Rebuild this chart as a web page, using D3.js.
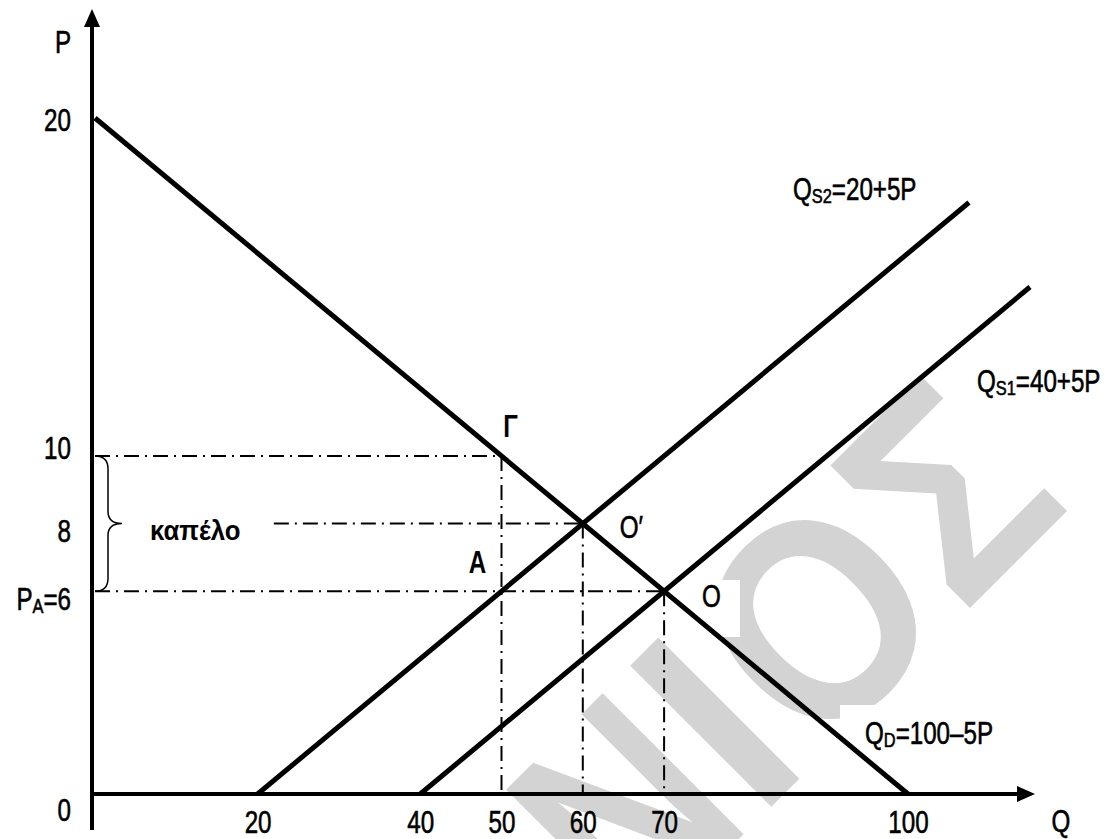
<!DOCTYPE html>
<html>
<head>
<meta charset="utf-8">
<script src="https://cdn.jsdelivr.net/npm/d3@7"></script>
<style>
  html, body { margin: 0; padding: 0; background: #fff; }
  svg { display: block; }
  text { font-family: "Liberation Sans", Arial, sans-serif; fill: #000; }
  text.lab { stroke: #000; stroke-width: 0.6px; }
</style>
</head>
<body>
<svg id="chart" width="1119" height="839"></svg>
<script>
// Market for a good: demand, original supply, shifted supply (after the subsidy)
const qTicks = [20, 40, 50, 60, 70, 100];
const pTicks = [20, 10, 8, 6];
const pTickText = ["20", "10", "8", "P|A|=6"];

// curves as [Q, P] end points
const demandLine  = [[0, 20], [100, 0]];      // QD = 100 - 5P
const supply1Line = [[40, 0], [115, 15]];     // QS1 = 40 + 5P
const supply2Line = [[20, 0], [107.5, 17.5]]; // QS2 = 20 + 5P

// dash-dot guide segments [[Q1, P1], [Q2, P2]]
const guides = [
  [[0, 10], [50, 10]],
  [[50, 10], [50, 0]],
  [[22, 8], [60, 8]],
  [[60, 8], [60, 0]],
  [[0, 6], [70, 6]],
  [[70, 6], [70, 0]]
];

// labelled points
const points = [
  { name: "Γ",  q: 50, p: 10, bold: true },
  { name: "A",  q: 50, p: 6,  bold: true },
  { name: "O′", q: 60, p: 8,  bold: false },
  { name: "O",  q: 70, p: 6,  bold: false }
];

const svg = d3.select("#chart");
const x = d3.scaleLinear().domain([0, 100]).range([95, 908]);
const y = d3.scaleLinear().domain([0, 20]).range([794, 118]);
const axisX = 92;
const NARROW = 0.78;   // horizontal squeeze for the condensed lettering
const FS = 31;

// condensed text placed at (px, py)
function label(parent, px, py, opts = {}) {
  const t = parent.append("text")
    .attr("class", opts.bold ? null : "lab")
    .attr("transform", `translate(${px},${py}) scale(${opts.sx || NARROW},1)`)
    .attr("text-anchor", opts.anchor || "start")
    .style("font-size", (opts.size || FS) + "px")
    .style("font-weight", opts.bold ? "bold" : "normal");
  richText(t, opts.text, opts.sub || 21);
  return t;
}

// text with "|sub|" subscripts
function richText(sel, str, subSize) {
  const parts = str.split("|");
  parts.forEach((t, i) => {
    if (!t) return;
    const ts = sel.append("tspan").text(t);
    if (i % 2 === 1) ts.style("font-size", subSize + "px").attr("dy", 3);
    else if (i > 0) ts.attr("dy", -3);
  });
}

// faint background mark, set letter by letter along a 45° baseline
const wm = svg.append("g")
  .attr("transform", "translate(803,775) rotate(-45)");
[["Ν", -152, 0.8], ["Ι", -25, 0.95], ["Ο", 120, 0.88], ["Σ", 303, 0.9]].forEach(([ch, u, sx]) => {
  wm.append("text")
    .attr("transform", `translate(${u},0) scale(${sx},1)`)
    .attr("text-anchor", "middle")
    .style("font-weight", "bold")
    .style("font-size", "290px")
    .style("fill", "#d3d3d3")
    .text(ch);
});

// white backing of the text boxes
svg.append("rect").attr("x", 690).attr("y", 580).attr("width", 50).attr("height", 57).attr("fill", "#fff");
svg.append("rect").attr("x", 840).attr("y", 705).attr("width", 180).attr("height", 55).attr("fill", "#fff");

// guides
const line = d3.line().x(d => x(d[0])).y(d => y(d[1]));
svg.append("g").selectAll("path").data(guides).join("path")
  .attr("d", line)
  .attr("fill", "none")
  .attr("stroke", "#000")
  .attr("stroke-width", 2)
  .attr("stroke-dasharray", "15,6,2,6");

// axes lines with arrows
svg.append("line").attr("x1", axisX).attr("y1", 20).attr("x2", axisX).attr("y2", 830)
  .attr("stroke", "#000").attr("stroke-width", 4);
svg.append("line").attr("x1", axisX - 2).attr("y1", y(0)).attr("x2", 1022).attr("y2", y(0))
  .attr("stroke", "#000").attr("stroke-width", 4);
svg.append("path").attr("d", `M${axisX},9 L${axisX - 8},27 L${axisX + 8},27 Z`).attr("fill", "#000");
svg.append("path").attr("d", `M1035,${y(0)} L1017,${y(0) - 8} L1017,${y(0) + 8} Z`).attr("fill", "#000");

// curves
[demandLine, supply1Line, supply2Line].forEach(d => {
  svg.append("path").attr("d", line(d))
    .attr("fill", "none").attr("stroke", "#000").attr("stroke-width", 5);
});

// brace over the 6..10 price band
const bTop = y(10), bMid = y(8), bBot = y(6), b0 = axisX + 3, b1 = 108, b2 = 122;
svg.append("path")
  .attr("d", `M${b0},${bTop} Q${b1},${bTop} ${b1},${bTop + 13} L${b1},${bMid - 12} Q${b1},${bMid} ${b2},${bMid} Q${b1},${bMid} ${b1},${bMid + 12} L${b1},${bBot - 13} Q${b1},${bBot} ${b0},${bBot}`)
  .attr("fill", "none").attr("stroke", "#000").attr("stroke-width", 1.5);

// quantity tick labels
const xAxis = d3.axisBottom(x).tickValues(qTicks).tickSize(0).tickPadding(17);
const gx = svg.append("g").attr("transform", `translate(0,${y(0)})`).call(xAxis);
gx.select(".domain").remove();
gx.selectAll("text")
  .attr("class", "lab")
  .style("font-size", FS + "px").style("font-family", null)
  .attr("fill", "#000")
  .attr("transform", `scale(${NARROW},1)`);

// price tick labels
const yNudge = { 20: 2, 10: -8, 8: 7, 6: 8 };
pTicks.forEach((p, i) => {
  label(svg, 71, y(p) + yNudge[p] + 11, { text: pTickText[i], anchor: "end" });
});

label(svg, 71, y(0) + 27, { text: "0", anchor: "end" });
label(svg, 63, 53, { text: "P", anchor: "middle" });
label(svg, 1061, 832, { text: "Q", anchor: "middle" });

// point labels
const ptOffset = { "Γ": [9, -19, "middle"], "A": [-24, -18, "middle"], "O′": [37, 14, "start"], "O": [38, 16, "start"] };
points.forEach(pt => {
  const o = ptOffset[pt.name];
  label(svg, x(pt.q) + o[0], y(pt.p) + o[1], { text: pt.name, anchor: o[2], bold: pt.bold });
});

label(svg, 150, 540, { text: "καπέλο", bold: true, size: 28, sx: 0.92 });

// curve equations
const eqs = [
  { s: "Q|S2|=20+5P", x: 793, y: 200 },
  { s: "Q|S1|=40+5P", x: 977, y: 392 },
  { s: "Q|D|=100–5P", x: 865, y: 744 }
];
eqs.forEach(e => label(svg, e.x, e.y, { text: e.s }));
</script>
</body>
</html>
